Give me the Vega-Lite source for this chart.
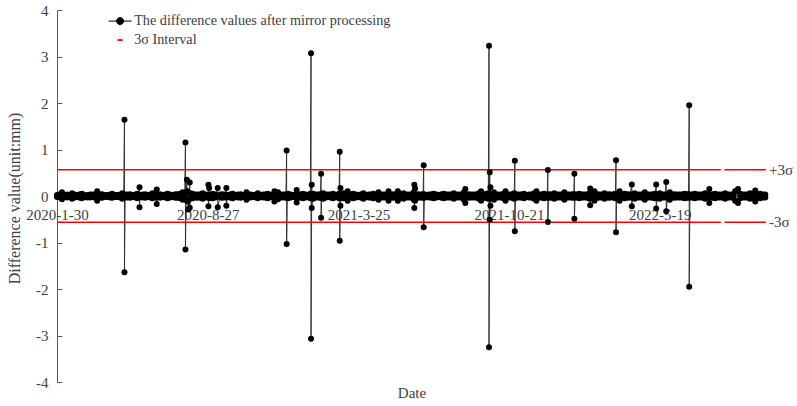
{
  "$schema": "https://vega.github.io/schema/vega-lite/v6.json",
  "width": 709,
  "height": 372,
  "autosize": {"type": "none"},
  "padding": {"left": 57, "top": 10, "right": 31, "bottom": 24},
  "background": "white",
  "config": {"view": {"stroke": null}, "font": "Liberation Serif"},
  "datasets": {
    "series": [
      {"d": "2020-01-30", "a": 0.02, "b": -0.02},
      {"d": "2020-02-03", "a": 0.04, "b": -0.03},
      {"d": "2020-02-06", "a": 0.08, "b": -0.07},
      {"d": "2020-02-10", "a": 0.02, "b": -0.02},
      {"d": "2020-02-13", "a": 0.03, "b": -0.03},
      {"d": "2020-02-17", "a": 0.02, "b": -0.01},
      {"d": "2020-02-20", "a": 0.06, "b": -0.06},
      {"d": "2020-02-24", "a": 0.03, "b": -0.03},
      {"d": "2020-02-27", "a": 0.02, "b": -0.02},
      {"d": "2020-03-02", "a": 0.04, "b": -0.04},
      {"d": "2020-03-05", "a": 0.05, "b": -0.05},
      {"d": "2020-03-09", "a": 0.01, "b": -0.02},
      {"d": "2020-03-12", "a": 0.02, "b": -0.03},
      {"d": "2020-03-16", "a": 0.03, "b": -0.03},
      {"d": "2020-03-19", "a": 0.03, "b": -0.02},
      {"d": "2020-03-23", "a": 0.04, "b": -0.04},
      {"d": "2020-03-26", "a": 0.1, "b": -0.1},
      {"d": "2020-03-30", "a": 0.03, "b": -0.03},
      {"d": "2020-04-02", "a": 0.04, "b": -0.04},
      {"d": "2020-04-06", "a": 0.02, "b": -0.02},
      {"d": "2020-04-09", "a": 0.02, "b": -0.02},
      {"d": "2020-04-13", "a": 0.03, "b": -0.03},
      {"d": "2020-04-16", "a": 0.05, "b": -0.04},
      {"d": "2020-04-20", "a": 0.02, "b": -0.02},
      {"d": "2020-04-23", "a": 0.02, "b": -0.02},
      {"d": "2020-04-27", "a": 0.03, "b": -0.03},
      {"d": "2020-04-30", "a": 0.06, "b": -0.06},
      {"d": "2020-05-02", "a": 0.02, "b": -0.02},
      {"d": "2020-05-03", "a": 1.64, "b": -1.64},
      {"d": "2020-05-04", "a": 0.03, "b": -0.03},
      {"d": "2020-05-07", "a": 0.03, "b": -0.03},
      {"d": "2020-05-11", "a": 0.04, "b": -0.04},
      {"d": "2020-05-14", "a": 0.02, "b": -0.02},
      {"d": "2020-05-18", "a": 0.03, "b": -0.03},
      {"d": "2020-05-21", "a": 0.05, "b": -0.05},
      {"d": "2020-05-24", "a": 0.19, "b": -0.24},
      {"d": "2020-05-25", "a": 0.02, "b": -0.02},
      {"d": "2020-05-28", "a": 0.03, "b": -0.03},
      {"d": "2020-06-01", "a": 0.04, "b": -0.04},
      {"d": "2020-06-04", "a": 0.02, "b": -0.02},
      {"d": "2020-06-08", "a": 0.03, "b": -0.03},
      {"d": "2020-06-11", "a": 0.06, "b": -0.05},
      {"d": "2020-06-15", "a": 0.03, "b": -0.03},
      {"d": "2020-06-17", "a": 0.14, "b": -0.17},
      {"d": "2020-06-18", "a": 0.03, "b": -0.03},
      {"d": "2020-06-22", "a": 0.04, "b": -0.04},
      {"d": "2020-06-25", "a": 0.02, "b": -0.02},
      {"d": "2020-06-29", "a": 0.03, "b": -0.03},
      {"d": "2020-07-02", "a": 0.05, "b": -0.05},
      {"d": "2020-07-06", "a": 0.03, "b": -0.03},
      {"d": "2020-07-09", "a": 0.02, "b": -0.02},
      {"d": "2020-07-13", "a": 0.04, "b": -0.04},
      {"d": "2020-07-16", "a": 0.04, "b": -0.04},
      {"d": "2020-07-20", "a": 0.05, "b": -0.05},
      {"d": "2020-07-23", "a": 0.08, "b": -0.08},
      {"d": "2020-07-26", "a": 0.06, "b": -0.06},
      {"d": "2020-07-27", "a": 1.15, "b": -1.15},
      {"d": "2020-07-28", "a": 0.08, "b": -0.08},
      {"d": "2020-07-29", "a": 0.35, "b": -0.1},
      {"d": "2020-07-30", "a": 0.1, "b": -0.12},
      {"d": "2020-07-31", "a": 0.06, "b": -0.29},
      {"d": "2020-08-02", "a": 0.29, "b": -0.25},
      {"d": "2020-08-03", "a": 0.06, "b": -0.06},
      {"d": "2020-08-06", "a": 0.05, "b": -0.05},
      {"d": "2020-08-10", "a": 0.03, "b": -0.03},
      {"d": "2020-08-13", "a": 0.03, "b": -0.04},
      {"d": "2020-08-17", "a": 0.04, "b": -0.04},
      {"d": "2020-08-20", "a": 0.06, "b": -0.06},
      {"d": "2020-08-24", "a": 0.03, "b": -0.03},
      {"d": "2020-08-27", "a": 0.02, "b": -0.02},
      {"d": "2020-08-28", "a": 0.24, "b": -0.22},
      {"d": "2020-08-29", "a": 0.17, "b": -0.05},
      {"d": "2020-08-31", "a": 0.03, "b": -0.03},
      {"d": "2020-09-03", "a": 0.05, "b": -0.05},
      {"d": "2020-09-07", "a": 0.03, "b": -0.03},
      {"d": "2020-09-10", "a": 0.17, "b": -0.24},
      {"d": "2020-09-14", "a": 0.03, "b": -0.03},
      {"d": "2020-09-17", "a": 0.04, "b": -0.04},
      {"d": "2020-09-21", "a": 0.03, "b": -0.03},
      {"d": "2020-09-22", "a": 0.17, "b": -0.21},
      {"d": "2020-09-24", "a": 0.02, "b": -0.02},
      {"d": "2020-09-28", "a": 0.04, "b": -0.04},
      {"d": "2020-10-01", "a": 0.05, "b": -0.05},
      {"d": "2020-10-05", "a": 0.02, "b": -0.02},
      {"d": "2020-10-08", "a": 0.03, "b": -0.03},
      {"d": "2020-10-12", "a": 0.04, "b": -0.04},
      {"d": "2020-10-15", "a": 0.02, "b": -0.02},
      {"d": "2020-10-19", "a": 0.03, "b": -0.03},
      {"d": "2020-10-20", "a": 0.08, "b": -0.08},
      {"d": "2020-10-22", "a": 0.04, "b": -0.04},
      {"d": "2020-10-26", "a": 0.03, "b": -0.03},
      {"d": "2020-10-29", "a": 0.02, "b": -0.02},
      {"d": "2020-11-02", "a": 0.03, "b": -0.03},
      {"d": "2020-11-05", "a": 0.06, "b": -0.05},
      {"d": "2020-11-09", "a": 0.02, "b": -0.02},
      {"d": "2020-11-12", "a": 0.03, "b": -0.03},
      {"d": "2020-11-16", "a": 0.04, "b": -0.04},
      {"d": "2020-11-19", "a": 0.05, "b": -0.05},
      {"d": "2020-11-23", "a": 0.02, "b": -0.02},
      {"d": "2020-11-26", "a": 0.03, "b": -0.03},
      {"d": "2020-11-28", "a": 0.1, "b": -0.12},
      {"d": "2020-11-30", "a": 0.03, "b": -0.03},
      {"d": "2020-12-03", "a": 0.08, "b": -0.07},
      {"d": "2020-12-07", "a": 0.03, "b": -0.03},
      {"d": "2020-12-10", "a": 0.03, "b": -0.03},
      {"d": "2020-12-14", "a": 0.04, "b": -0.04},
      {"d": "2020-12-15", "a": 0.98, "b": -1.03},
      {"d": "2020-12-16", "a": 0.04, "b": -0.04},
      {"d": "2020-12-17", "a": 0.05, "b": -0.05},
      {"d": "2020-12-21", "a": 0.03, "b": -0.03},
      {"d": "2020-12-24", "a": 0.02, "b": -0.02},
      {"d": "2020-12-28", "a": 0.04, "b": -0.04},
      {"d": "2020-12-29", "a": 0.13, "b": -0.14},
      {"d": "2020-12-31", "a": 0.03, "b": -0.03},
      {"d": "2021-01-04", "a": 0.04, "b": -0.04},
      {"d": "2021-01-07", "a": 0.05, "b": -0.05},
      {"d": "2021-01-11", "a": 0.03, "b": -0.03},
      {"d": "2021-01-14", "a": 0.02, "b": -0.02},
      {"d": "2021-01-17", "a": 0.05, "b": -0.05},
      {"d": "2021-01-18", "a": 3.07, "b": -3.07},
      {"d": "2021-01-19", "a": 0.24, "b": -0.26},
      {"d": "2021-01-21", "a": 0.05, "b": -0.06},
      {"d": "2021-01-25", "a": 0.03, "b": -0.03},
      {"d": "2021-01-28", "a": 0.03, "b": -0.03},
      {"d": "2021-01-31", "a": 0.04, "b": -0.04},
      {"d": "2021-02-01", "a": 0.48, "b": -0.47},
      {"d": "2021-02-02", "a": 0.05, "b": -0.05},
      {"d": "2021-02-04", "a": 0.06, "b": -0.06},
      {"d": "2021-02-08", "a": 0.03, "b": -0.03},
      {"d": "2021-02-11", "a": 0.03, "b": -0.02},
      {"d": "2021-02-15", "a": 0.04, "b": -0.04},
      {"d": "2021-02-18", "a": 0.05, "b": -0.05},
      {"d": "2021-02-22", "a": 0.02, "b": -0.02},
      {"d": "2021-02-25", "a": 0.03, "b": -0.03},
      {"d": "2021-02-26", "a": 0.05, "b": -0.05},
      {"d": "2021-02-27", "a": 0.95, "b": -0.96},
      {"d": "2021-02-28", "a": 0.17, "b": -0.21},
      {"d": "2021-03-01", "a": 0.04, "b": -0.04},
      {"d": "2021-03-04", "a": 0.06, "b": -0.05},
      {"d": "2021-03-08", "a": 0.03, "b": -0.03},
      {"d": "2021-03-10", "a": 0.1, "b": -0.1},
      {"d": "2021-03-11", "a": 0.03, "b": -0.03},
      {"d": "2021-03-15", "a": 0.04, "b": -0.04},
      {"d": "2021-03-18", "a": 0.05, "b": -0.05},
      {"d": "2021-03-22", "a": 0.03, "b": -0.03},
      {"d": "2021-03-25", "a": 0.02, "b": -0.02},
      {"d": "2021-03-29", "a": 0.04, "b": -0.04},
      {"d": "2021-04-01", "a": 0.06, "b": -0.06},
      {"d": "2021-04-05", "a": 0.02, "b": -0.02},
      {"d": "2021-04-08", "a": 0.03, "b": -0.03},
      {"d": "2021-04-12", "a": 0.04, "b": -0.04},
      {"d": "2021-04-15", "a": 0.05, "b": -0.05},
      {"d": "2021-04-19", "a": 0.03, "b": -0.03},
      {"d": "2021-04-22", "a": 0.08, "b": -0.08},
      {"d": "2021-04-26", "a": 0.03, "b": -0.03},
      {"d": "2021-04-29", "a": 0.03, "b": -0.03},
      {"d": "2021-05-03", "a": 0.04, "b": -0.04},
      {"d": "2021-05-06", "a": 0.1, "b": -0.1},
      {"d": "2021-05-10", "a": 0.03, "b": -0.03},
      {"d": "2021-05-13", "a": 0.04, "b": -0.04},
      {"d": "2021-05-17", "a": 0.03, "b": -0.03},
      {"d": "2021-05-19", "a": 0.1, "b": -0.1},
      {"d": "2021-05-20", "a": 0.03, "b": -0.03},
      {"d": "2021-05-24", "a": 0.04, "b": -0.04},
      {"d": "2021-05-27", "a": 0.06, "b": -0.06},
      {"d": "2021-05-31", "a": 0.03, "b": -0.03},
      {"d": "2021-06-03", "a": 0.03, "b": -0.03},
      {"d": "2021-06-07", "a": 0.04, "b": -0.04},
      {"d": "2021-06-10", "a": 0.08, "b": -0.08},
      {"d": "2021-06-11", "a": 0.24, "b": -0.26},
      {"d": "2021-06-12", "a": 0.16, "b": -0.1},
      {"d": "2021-06-14", "a": 0.03, "b": -0.03},
      {"d": "2021-06-17", "a": 0.04, "b": -0.04},
      {"d": "2021-06-21", "a": 0.03, "b": -0.03},
      {"d": "2021-06-23", "a": 0.04, "b": -0.04},
      {"d": "2021-06-24", "a": 0.66, "b": -0.67},
      {"d": "2021-06-25", "a": 0.04, "b": -0.04},
      {"d": "2021-06-28", "a": 0.02, "b": -0.02},
      {"d": "2021-07-01", "a": 0.03, "b": -0.03},
      {"d": "2021-07-05", "a": 0.04, "b": -0.04},
      {"d": "2021-07-08", "a": 0.05, "b": -0.05},
      {"d": "2021-07-12", "a": 0.03, "b": -0.03},
      {"d": "2021-07-15", "a": 0.02, "b": -0.02},
      {"d": "2021-07-19", "a": 0.04, "b": -0.04},
      {"d": "2021-07-22", "a": 0.05, "b": -0.05},
      {"d": "2021-07-26", "a": 0.03, "b": -0.03},
      {"d": "2021-07-29", "a": 0.03, "b": -0.03},
      {"d": "2021-08-02", "a": 0.04, "b": -0.04},
      {"d": "2021-08-05", "a": 0.06, "b": -0.06},
      {"d": "2021-08-09", "a": 0.03, "b": -0.03},
      {"d": "2021-08-12", "a": 0.03, "b": -0.03},
      {"d": "2021-08-16", "a": 0.04, "b": -0.04},
      {"d": "2021-08-19", "a": 0.08, "b": -0.08},
      {"d": "2021-08-21", "a": 0.15, "b": -0.15},
      {"d": "2021-08-23", "a": 0.03, "b": -0.03},
      {"d": "2021-08-26", "a": 0.04, "b": -0.04},
      {"d": "2021-08-30", "a": 0.03, "b": -0.03},
      {"d": "2021-09-02", "a": 0.03, "b": -0.03},
      {"d": "2021-09-06", "a": 0.04, "b": -0.04},
      {"d": "2021-09-09", "a": 0.06, "b": -0.06},
      {"d": "2021-09-12", "a": 0.1, "b": -0.1},
      {"d": "2021-09-13", "a": 0.03, "b": -0.03},
      {"d": "2021-09-16", "a": 0.04, "b": -0.04},
      {"d": "2021-09-20", "a": 0.05, "b": -0.05},
      {"d": "2021-09-22", "a": 0.06, "b": -0.06},
      {"d": "2021-09-23", "a": 3.23, "b": -3.25},
      {"d": "2021-09-24", "a": 0.51, "b": -0.51},
      {"d": "2021-09-25", "a": 0.19, "b": -0.21},
      {"d": "2021-09-27", "a": 0.05, "b": -0.05},
      {"d": "2021-09-30", "a": 0.08, "b": -0.08},
      {"d": "2021-10-04", "a": 0.03, "b": -0.03},
      {"d": "2021-10-07", "a": 0.03, "b": -0.03},
      {"d": "2021-10-11", "a": 0.04, "b": -0.04},
      {"d": "2021-10-14", "a": 0.05, "b": -0.05},
      {"d": "2021-10-16", "a": 0.1, "b": -0.1},
      {"d": "2021-10-18", "a": 0.03, "b": -0.03},
      {"d": "2021-10-21", "a": 0.03, "b": -0.03},
      {"d": "2021-10-25", "a": 0.04, "b": -0.04},
      {"d": "2021-10-28", "a": 0.06, "b": -0.06},
      {"d": "2021-10-29", "a": 0.76, "b": -0.76},
      {"d": "2021-10-30", "a": 0.04, "b": -0.04},
      {"d": "2021-11-01", "a": 0.03, "b": -0.03},
      {"d": "2021-11-04", "a": 0.03, "b": -0.03},
      {"d": "2021-11-08", "a": 0.04, "b": -0.04},
      {"d": "2021-11-11", "a": 0.05, "b": -0.05},
      {"d": "2021-11-15", "a": 0.02, "b": -0.02},
      {"d": "2021-11-18", "a": 0.03, "b": -0.03},
      {"d": "2021-11-22", "a": 0.04, "b": -0.04},
      {"d": "2021-11-25", "a": 0.06, "b": -0.06},
      {"d": "2021-11-28", "a": 0.1, "b": -0.1},
      {"d": "2021-11-29", "a": 0.03, "b": -0.03},
      {"d": "2021-12-02", "a": 0.03, "b": -0.03},
      {"d": "2021-12-06", "a": 0.04, "b": -0.04},
      {"d": "2021-12-09", "a": 0.05, "b": -0.05},
      {"d": "2021-12-13", "a": 0.03, "b": -0.03},
      {"d": "2021-12-14", "a": 0.56, "b": -0.56},
      {"d": "2021-12-15", "a": 0.04, "b": -0.04},
      {"d": "2021-12-16", "a": 0.03, "b": -0.03},
      {"d": "2021-12-20", "a": 0.04, "b": -0.04},
      {"d": "2021-12-23", "a": 0.06, "b": -0.06},
      {"d": "2021-12-27", "a": 0.03, "b": -0.03},
      {"d": "2021-12-30", "a": 0.03, "b": -0.03},
      {"d": "2022-01-03", "a": 0.04, "b": -0.04},
      {"d": "2022-01-06", "a": 0.08, "b": -0.08},
      {"d": "2022-01-10", "a": 0.03, "b": -0.03},
      {"d": "2022-01-13", "a": 0.03, "b": -0.03},
      {"d": "2022-01-17", "a": 0.04, "b": -0.04},
      {"d": "2022-01-19", "a": 0.03, "b": -0.03},
      {"d": "2022-01-20", "a": 0.48, "b": -0.49},
      {"d": "2022-01-21", "a": 0.04, "b": -0.04},
      {"d": "2022-01-24", "a": 0.03, "b": -0.03},
      {"d": "2022-01-27", "a": 0.05, "b": -0.05},
      {"d": "2022-01-31", "a": 0.03, "b": -0.03},
      {"d": "2022-02-03", "a": 0.03, "b": -0.03},
      {"d": "2022-02-07", "a": 0.04, "b": -0.04},
      {"d": "2022-02-10", "a": 0.06, "b": -0.06},
      {"d": "2022-02-11", "a": 0.16, "b": -0.2},
      {"d": "2022-02-14", "a": 0.03, "b": -0.03},
      {"d": "2022-02-17", "a": 0.1, "b": -0.1},
      {"d": "2022-02-21", "a": 0.04, "b": -0.04},
      {"d": "2022-02-24", "a": 0.03, "b": -0.03},
      {"d": "2022-02-28", "a": 0.04, "b": -0.04},
      {"d": "2022-03-03", "a": 0.06, "b": -0.06},
      {"d": "2022-03-07", "a": 0.03, "b": -0.03},
      {"d": "2022-03-10", "a": 0.04, "b": -0.04},
      {"d": "2022-03-14", "a": 0.03, "b": -0.03},
      {"d": "2022-03-17", "a": 0.03, "b": -0.03},
      {"d": "2022-03-18", "a": 0.05, "b": -0.05},
      {"d": "2022-03-19", "a": 0.77, "b": -0.78},
      {"d": "2022-03-20", "a": 0.05, "b": -0.05},
      {"d": "2022-03-21", "a": 0.03, "b": -0.03},
      {"d": "2022-03-24", "a": 0.1, "b": -0.1},
      {"d": "2022-03-28", "a": 0.03, "b": -0.03},
      {"d": "2022-03-31", "a": 0.05, "b": -0.05},
      {"d": "2022-04-04", "a": 0.04, "b": -0.04},
      {"d": "2022-04-07", "a": 0.03, "b": -0.03},
      {"d": "2022-04-10", "a": 0.25, "b": -0.22},
      {"d": "2022-04-11", "a": 0.04, "b": -0.04},
      {"d": "2022-04-14", "a": 0.06, "b": -0.06},
      {"d": "2022-04-18", "a": 0.03, "b": -0.03},
      {"d": "2022-04-21", "a": 0.03, "b": -0.03},
      {"d": "2022-04-25", "a": 0.04, "b": -0.04},
      {"d": "2022-04-28", "a": 0.08, "b": -0.08},
      {"d": "2022-05-02", "a": 0.03, "b": -0.03},
      {"d": "2022-05-05", "a": 0.03, "b": -0.03},
      {"d": "2022-05-09", "a": 0.04, "b": -0.04},
      {"d": "2022-05-12", "a": 0.05, "b": -0.05},
      {"d": "2022-05-14", "a": 0.25, "b": -0.27},
      {"d": "2022-05-16", "a": 0.04, "b": -0.04},
      {"d": "2022-05-19", "a": 0.06, "b": -0.06},
      {"d": "2022-05-23", "a": 0.03, "b": -0.03},
      {"d": "2022-05-26", "a": 0.03, "b": -0.03},
      {"d": "2022-05-28", "a": 0.3, "b": -0.33},
      {"d": "2022-05-30", "a": 0.04, "b": -0.04},
      {"d": "2022-06-02", "a": 0.08, "b": -0.08},
      {"d": "2022-06-06", "a": 0.03, "b": -0.03},
      {"d": "2022-06-09", "a": 0.04, "b": -0.04},
      {"d": "2022-06-13", "a": 0.03, "b": -0.03},
      {"d": "2022-06-16", "a": 0.03, "b": -0.03},
      {"d": "2022-06-20", "a": 0.04, "b": -0.04},
      {"d": "2022-06-23", "a": 0.05, "b": -0.05},
      {"d": "2022-06-27", "a": 0.03, "b": -0.03},
      {"d": "2022-06-28", "a": 0.04, "b": -0.04},
      {"d": "2022-06-29", "a": 1.95, "b": -1.95},
      {"d": "2022-06-30", "a": 0.03, "b": -0.03},
      {"d": "2022-07-04", "a": 0.04, "b": -0.04},
      {"d": "2022-07-07", "a": 0.05, "b": -0.05},
      {"d": "2022-07-11", "a": 0.03, "b": -0.03},
      {"d": "2022-07-14", "a": 0.03, "b": -0.03},
      {"d": "2022-07-18", "a": 0.04, "b": -0.04},
      {"d": "2022-07-21", "a": 0.06, "b": -0.06},
      {"d": "2022-07-25", "a": 0.03, "b": -0.03},
      {"d": "2022-07-27", "a": 0.15, "b": -0.15},
      {"d": "2022-07-28", "a": 0.03, "b": -0.03},
      {"d": "2022-08-01", "a": 0.04, "b": -0.04},
      {"d": "2022-08-04", "a": 0.05, "b": -0.05},
      {"d": "2022-08-08", "a": 0.03, "b": -0.03},
      {"d": "2022-08-11", "a": 0.03, "b": -0.03},
      {"d": "2022-08-15", "a": 0.04, "b": -0.04},
      {"d": "2022-08-18", "a": 0.06, "b": -0.06},
      {"d": "2022-08-22", "a": 0.03, "b": -0.03},
      {"d": "2022-08-25", "a": 0.03, "b": -0.03},
      {"d": "2022-08-29", "a": 0.04, "b": -0.04},
      {"d": "2022-09-01", "a": 0.1, "b": -0.1},
      {"d": "2022-09-05", "a": 0.15, "b": -0.15},
      {"d": "2022-09-08", "a": 0.05, "b": -0.05},
      {"d": "2022-09-12", "a": 0.03, "b": -0.03},
      {"d": "2022-09-15", "a": 0.03, "b": -0.03},
      {"d": "2022-09-19", "a": 0.04, "b": -0.04},
      {"d": "2022-09-22", "a": 0.06, "b": -0.06},
      {"d": "2022-09-26", "a": 0.03, "b": -0.03},
      {"d": "2022-09-29", "a": 0.12, "b": -0.12},
      {"d": "2022-10-03", "a": 0.04, "b": -0.04},
      {"d": "2022-10-06", "a": 0.05, "b": -0.05},
      {"d": "2022-10-10", "a": 0.03, "b": -0.03},
      {"d": "2022-10-13", "a": 0.03, "b": -0.03}
    ],
    "sigma": [
      {"d": "2020-01-30", "d2": "2022-08-12", "v": 0.567, "s": "3σ Interval"},
      {"d": "2022-08-17", "d2": "2022-10-14", "v": 0.567, "s": "3σ Interval"},
      {"d": "2020-01-30", "d2": "2022-08-12", "v": -0.567, "s": "3σ Interval"},
      {"d": "2022-08-17", "d2": "2022-10-14", "v": -0.567, "s": "3σ Interval"}
    ],
    "labels": [
      {"d": "2022-10-14", "v": 0.567, "t": "+3σ"},
      {"d": "2022-10-14", "v": -0.567, "t": "-3σ"}
    ]
  },
  "layer": [
    {
      "data": {"name": "series"},
      "transform": [{"fold": ["a", "b"], "as": ["k", "v"]}],
      "mark": {"type": "line", "color": "#333333", "strokeWidth": 1},
      "encoding": {
        "x": {
          "field": "d", "type": "temporal",
          "scale": {"type": "utc", "domain": [{"year": 2020, "month": 1, "date": 30, "utc": true}, {"year": 2022, "month": 10, "date": 14, "utc": true}]},
          "axis": {
            "values": [
              {"year": 2020, "month": 1, "date": 30, "utc": true},
              {"year": 2020, "month": 8, "date": 27, "utc": true},
              {"year": 2021, "month": 3, "date": 25, "utc": true},
              {"year": 2021, "month": 10, "date": 21, "utc": true},
              {"year": 2022, "month": 5, "date": 19, "utc": true}
            ],
            "labelExpr": "utcFormat(datum.value, '%Y-%-m-%-d')",
            "offset": -186, "ticks": false, "labelPadding": 11,
            "labelFlush": false, "labelOverlap": false,
            "labelFontSize": 15, "labelColor": "#404040", "labelFont": "Liberation Serif",
            "domainColor": "#595959", "grid": false,
            "title": "Date", "titleFontSize": 15, "titleFontWeight": "normal", "titleColor": "#404040", "titleFont": "Liberation Serif",
            "titleY": 201, "titleBaseline": "alphabetic"
          }
        },
        "y": {
          "field": "v", "type": "quantitative",
          "scale": {"domain": [-4, 4], "nice": false},
          "axis": {
            "values": [-4, -3, -2, -1, 0, 1, 2, 3, 4],
            "labelExpr": "'' + datum.value",
            "tickSize": -5, "labelPadding": 14,
            "labelFontSize": 15, "labelColor": "#404040", "labelFont": "Liberation Serif",
            "domainColor": "#595959", "tickColor": "#595959", "grid": false,
            "title": "Difference value(unit:mm)", "titleFontSize": 16, "titleFontWeight": "normal", "titleColor": "#404040", "titleFont": "Liberation Serif",
            "titleX": -43, "titleY": 188, "titleAngle": -90, "titleAlign": "center", "titleBaseline": "middle"
          }
        }
      }
    },
    {
      "data": {"name": "sigma"},
      "mark": {"type": "rule", "strokeWidth": 1.5},
      "encoding": {
        "x": {"field": "d", "type": "temporal"},
        "x2": {"field": "d2"},
        "y": {"field": "v", "type": "quantitative"},
        "color": {
          "field": "s", "type": "nominal",
          "scale": {"domain": ["The difference values after mirror processing", "3σ Interval"], "range": ["#000000", "#FF0000"]},
          "legend": {
            "orient": "none", "legendX": 56, "legendY": 4, "title": null, "padding": 0,
            "labelFont": "Liberation Serif", "labelFontSize": 14.2, "labelColor": "#404040", "labelLimit": 400,
            "symbolSize": 100, "rowPadding": 4, "labelOffset": 7,
            "encode": {
              "symbols": {
                "update": {
                  "shape": {"signal": "datum.value === '3σ Interval' ? 'M-0.5,0H0.5' : 'M-2.3,0H2.3M-0.7,0A0.7,0.7 0 1 0 0.7,0A0.7,0.7 0 1 0 -0.7,0Z'"},
                  "fill": {"signal": "datum.value === '3σ Interval' ? 'transparent' : '#000000'"},
                  "stroke": {"signal": "datum.value === '3σ Interval' ? '#FF0000' : '#333333'"},
                  "strokeWidth": {"signal": "datum.value === '3σ Interval' ? 2 : 1"}
                }
              }
            }
          }
        }
      }
    },
    {
      "data": {"name": "series"},
      "transform": [{"fold": ["a", "b"], "as": ["k", "v"]}],
      "mark": {"type": "point", "filled": true, "color": "#000000", "size": 36, "opacity": 1},
      "encoding": {
        "x": {"field": "d", "type": "temporal"},
        "y": {"field": "v", "type": "quantitative"}
      }
    },
    {
      "data": {"name": "labels"},
      "mark": {"type": "text", "align": "left", "baseline": "middle", "dx": 3, "font": "Liberation Serif", "fontSize": 15, "color": "#404040"},
      "encoding": {
        "x": {"field": "d", "type": "temporal"},
        "y": {"field": "v", "type": "quantitative"},
        "text": {"field": "t"}
      }
    }
  ]
}
